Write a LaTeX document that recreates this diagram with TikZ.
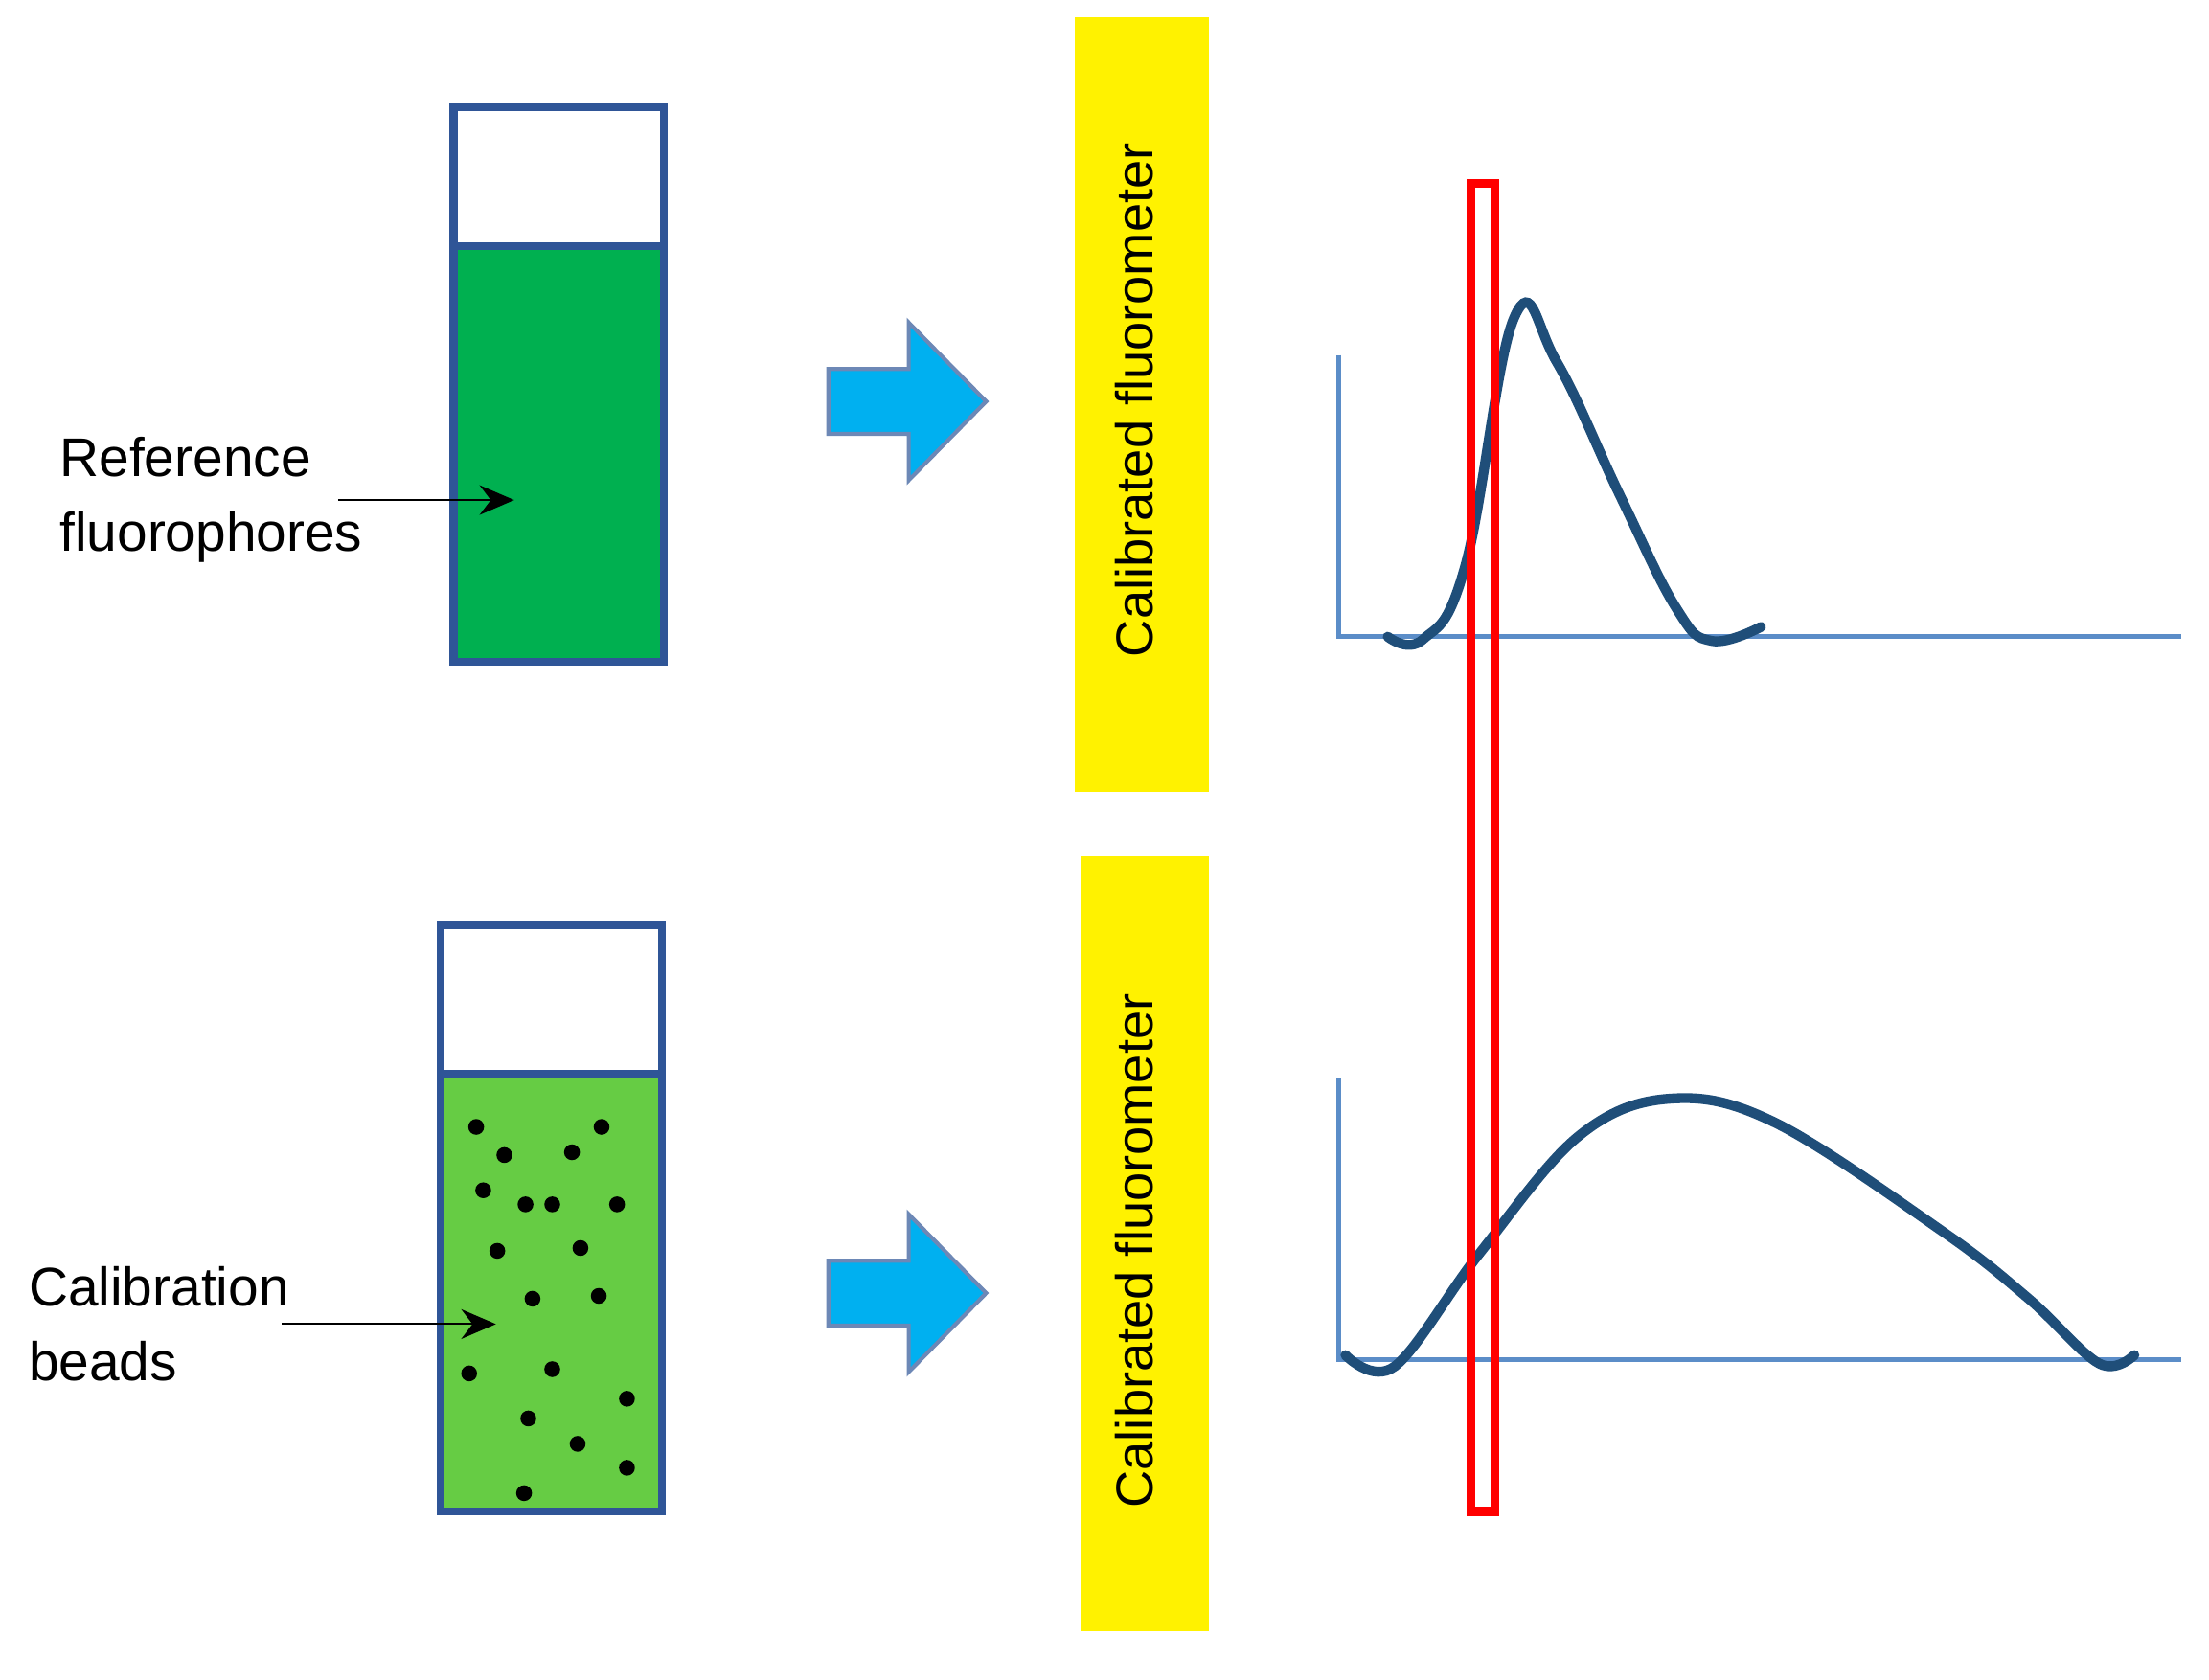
\documentclass[tikz,border=0pt]{standalone}
\usepackage{fontspec}
\setmainfont{Liberation Sans}
\usetikzlibrary{positioning, calc, arrows.meta}
\definecolor{cuvline}{HTML}{2F5597}
\definecolor{darkgrn}{HTML}{00B050}
\definecolor{lightgrn}{HTML}{66CC44}
\definecolor{arrowblue}{HTML}{00B0F0}
\definecolor{axisblue}{HTML}{5B8DC8}
\definecolor{curveblue}{HTML}{1F4E79}
\begin{document}
\begin{tikzpicture}[
        cuvette/.style={draw=cuvline, line width=1.6pt},
        label/.style={align=left, font=\fontsize{11}{15}\selectfont},
        pointer/.style={-{Stealth[length=7pt, width=6pt]}, thin},
        fluor/.style={fill=yellow, draw=none},
        fluortext/.style={rotate=90, font=\fontsize{10.5}{12}\selectfont},
        blockarrow/.style={fill=arrowblue, draw=cuvline!70, line width=0.8pt},
        axis/.style={draw=axisblue, line width=1pt},
        curve/.style={draw=curveblue, line width=2pt, line cap=round}
    ]
        \useasboundingbox (0,0) rectangle (15.68,11.92);

        % cuvettes
        \fill[darkgrn] (3.22,7.22) rectangle (4.71,10.17);
        \draw[cuvette] (3.22,7.22) rectangle (4.71,11.16);
        \draw[cuvette] (3.22,10.17) -- (4.71,10.17);
        \fill[lightgrn] (3.13,1.19) rectangle (4.70,4.30);
        \draw[cuvette] (3.13,1.19) rectangle (4.70,5.35);
        \draw[cuvette] (3.13,4.30) -- (4.70,4.30);
        \foreach \x/\y in {3.38/3.92, 3.58/3.72, 4.27/3.92, 4.06/3.74, 3.43/3.47,
            3.73/3.37, 3.92/3.37, 4.38/3.37, 3.53/3.04, 4.12/3.06, 3.78/2.70,
            4.25/2.72, 3.33/2.17, 3.92/2.20, 4.45/1.99, 3.75/1.85, 4.10/1.67,
            4.45/1.50, 3.72/1.32}
            \fill (\x,\y) circle (1.6pt);

        % labels
        \node[label, anchor=west] (reflab) at (0.30,8.37) {Reference\\fluorophores};
        \coordinate (reftip) at (3.65,8.37);
        \draw[pointer] (2.40,8.37) -- (reftip);
        \node[label, anchor=west] (beadlab) at (0.08,2.52) {Calibration\\beads};
        \coordinate (beadtip) at (3.52,2.52);
        \draw[pointer] (2.00,2.52) -- (beadtip);

        % block arrows
        \foreach \y in {9.07, 2.74}
            \draw[blockarrow] (5.88,\y+0.23) -- (6.45,\y+0.23) -- (6.45,\y+0.56)
                -- (7.00,\y) -- (6.45,\y-0.56) -- (6.45,\y-0.23) -- (5.88,\y-0.23) -- cycle;

        % fluorometers
        \fill[fluor] (7.63,6.30) rectangle (8.58,11.80);
        \node[fluortext] (fluortop) at (8.05,9.08) {Calibrated fluorometer};
        \fill[fluor] (7.67,0.34) rectangle (8.58,5.84);
        \node[fluortext] (fluorbot) at (8.05,3.04) {Calibrated fluorometer};

        % spectra
        \draw[axis] (9.50,9.40) -- (9.50,7.40) -- (15.48,7.40);
        \draw[curve] plot[smooth, tension=0.7] coordinates {(9.85,7.40) (10.10,7.38)
            (10.40,7.90) (10.75,9.67) (11.05,9.35) (11.50,8.40) (11.90,7.60)
            (12.15,7.37) (12.50,7.47)};
        \draw[axis] (9.50,4.27) -- (9.50,2.27) -- (15.48,2.27);
        \draw[curve] plot[smooth, tension=0.6] coordinates {(9.55,2.30) (9.90,2.22)
            (10.50,3.02) (11.20,3.85) (11.85,4.12) (12.60,3.95) (13.80,3.17)
            (14.40,2.70) (14.90,2.24) (15.15,2.30)};

        % selected band
        \draw[red, line width=1.8pt] (10.44,1.19) rectangle (10.61,10.62);
    \end{tikzpicture}
\end{document}
